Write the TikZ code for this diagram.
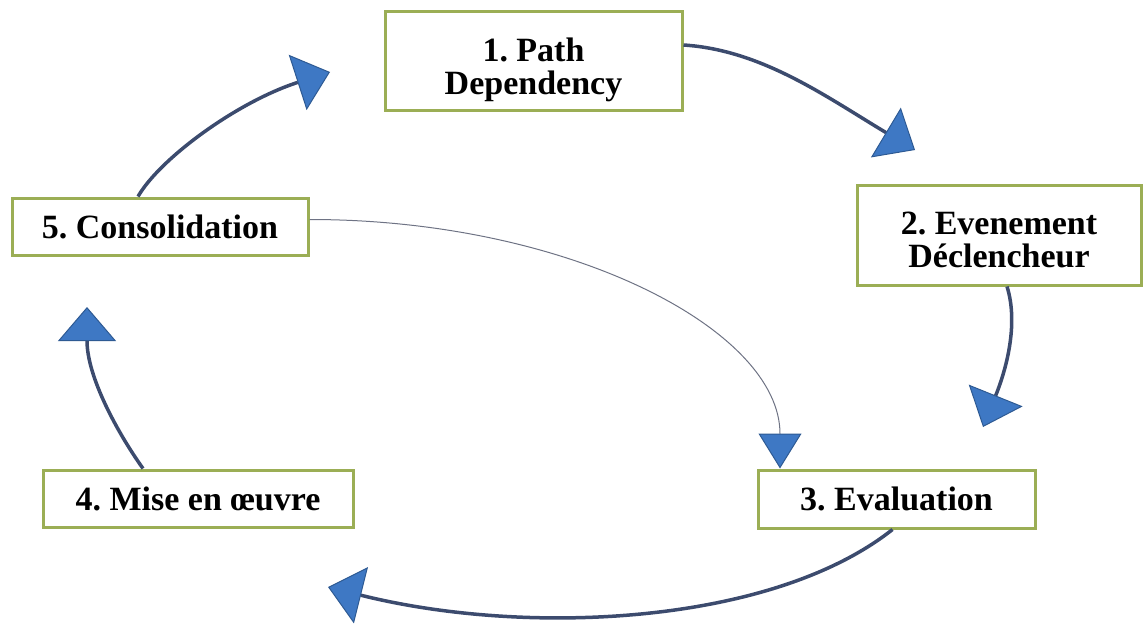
\documentclass[tikz,border=0pt]{standalone}
\usepackage{fontspec}
\setmainfont{Liberation Serif}
\usetikzlibrary{arrows.meta,calc}
\definecolor{boxgreen}{HTML}{9BAE55}
\definecolor{linecol}{HTML}{3C4B6E}
\definecolor{thincol}{HTML}{6E7384}
\definecolor{tipblue}{HTML}{3E78C4}
\definecolor{tipedge}{HTML}{2E5A93}
\tikzset{
  stagebox/.style={draw=boxgreen, line width=3pt, fill=white, inner sep=0pt, align=center,
    font=\fontsize{34}{33}\selectfont\bfseries\frenchspacing},
  bigtip/.style={-{Triangle[width=58pt,length=34pt,fill=tipblue,color=tipedge,line width=1pt]}},
  flowarrow/.style={draw=linecol, line width=3.5pt, bigtip},
  thinarrow/.style={draw=thincol, line width=1pt,
    -{Triangle[width=43pt,length=35pt,fill=tipblue,color=tipedge,line width=1pt]}}
}
\begin{document}
\begin{tikzpicture}[x=1pt,y=-1pt]
\useasboundingbox (0,0) rectangle (1145,626);
\node[stagebox, minimum width=297pt, minimum height=98pt, text height=66pt, text depth=0pt] (b1) at (533.5,61) {1. Path\\Dependency};
\node[stagebox, minimum width=284pt, minimum height=100pt, text height=64pt, text depth=0pt] (b2) at (999,235) {2. Evenement\\Déclencheur};
\node[stagebox, minimum width=277pt, minimum height=58pt] (b3) at (896.5,499) {3. Evaluation};
\node[stagebox, minimum width=310pt, minimum height=57pt] (b4) at (198,498.5) {4. Mise en œuvre};
\node[stagebox, minimum width=296pt, minimum height=57pt] (b5) at (160,226.5) {5. Consolidation};

\coordinate (t2) at (915,150);
\coordinate (t1) at (330,72);
\coordinate (t3) at (983,427);
\coordinate (t4) at (328,587);
\coordinate (t5) at (87,307);

\draw[flowarrow] ($(b1.east)+(0,-16)$) .. controls +(78,5) and +(-90,-54) .. (t2);
\draw[flowarrow] ($(b2.south)+(8,0)$) .. controls +(11,35) and +(25,-62) .. (t3);
\draw[flowarrow] ($(b3.south)+(-4,0)$) .. controls +(-120,95) and +(200,50) .. (t4);
\draw[flowarrow] ($(b4.north)+(-55,0)$) .. controls +(-25,-35) and +(0,70) .. (t5);
\draw[flowarrow] ($(b5.north)+(-22,0)$) .. controls +(22,-38) and +(-93,30) .. (t1);
\draw[thinarrow] ($(b5.east)+(0,-7)$) .. controls +(261,0) and +(0,-138) .. ($(b3.north)+(-116.5,0)$);
\end{tikzpicture}
\end{document}
